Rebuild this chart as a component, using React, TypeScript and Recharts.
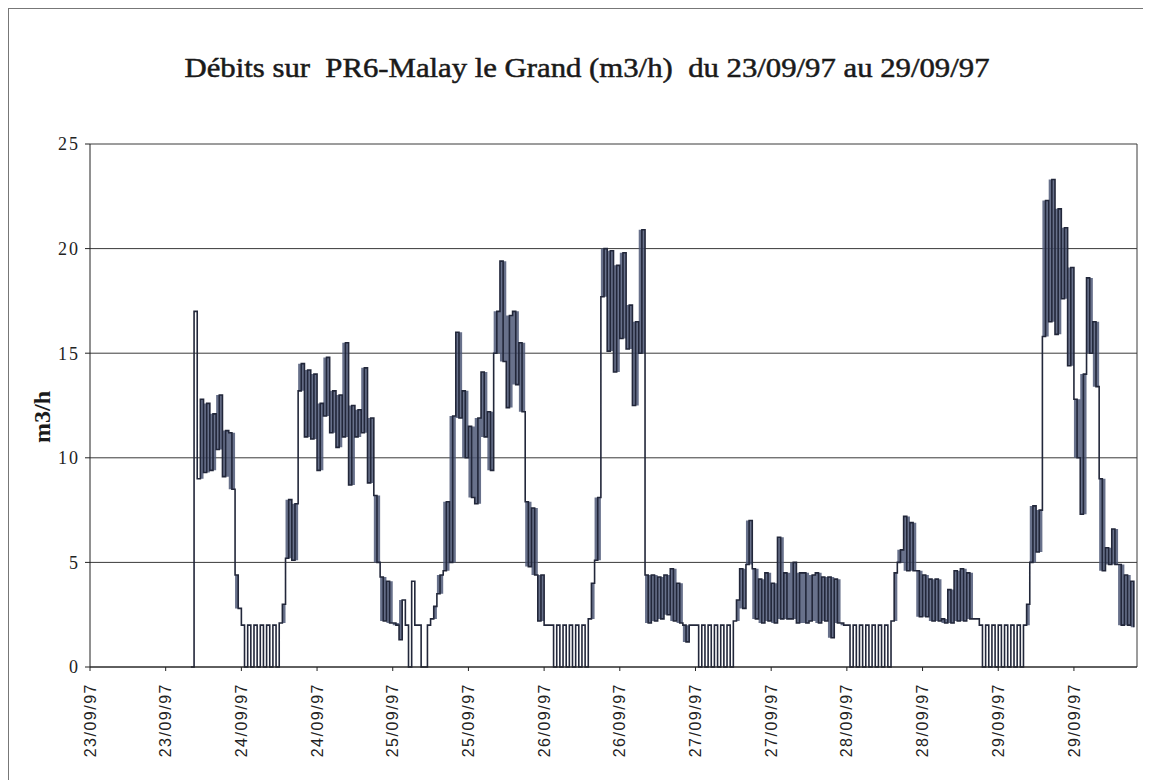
import React from 'react';
import { Area, CartesianGrid, ComposedChart, Line, ReferenceLine, XAxis, YAxis } from 'recharts';

// hourly readings starting at 23/09/97 16:00 (hour index 16)
const firstHour = 16;
const onTheHour = [
  0, 9.0, 9.3, 9.4, 10.4, 9.1, 11.2, 4.4, 2, 2, 2, 2, 2, 2, 2.1, 5.2, 5.1, 13.2, 11.0, 10.9,
  9.4, 12.0, 11.2, 10.5, 11.0, 8.7, 11.0, 11.2, 8.8, 8.2, 4.3, 4.1, 2.1, 1.3, 2.0, 4.1, 2.0, 0, 2.3, 3.5,
  4.6, 5.0, 16.0, 13.2, 11.5, 7.8, 14.1, 12.2, 15.0, 19.4, 12.4, 17.0, 15.5, 7.9, 7.6, 2.2, 2.0, 2, 2, 2,
  2, 2, 2, 2.3, 5.1, 17.7, 15.1, 14.1, 15.7, 15.2, 12.5, 15.0, 4.4, 4.4, 4.3, 4.4, 4.7, 4.0, 2.0, 2.0,
  2, 2, 2, 2, 2, 2, 2.2, 4.7, 4.9, 4.7, 4.2, 4.5, 4.0, 6.2, 4.5, 2.3, 2.1, 4.5, 2.2, 4.5,
  4.3, 4.3, 4.2, 2.1, 2, 2, 2, 2, 2, 2, 2, 2.2, 5.0, 7.2, 6.9, 4.6, 4.4, 4.2, 4.2, 2.3,
  3.7, 4.6, 4.7, 4.5, 2.3, 2, 2, 2, 2, 2, 2, 2, 2.0, 5.0, 5.5, 15.8, 16.5, 15.9, 17.6, 14.4,
  12.8, 7.3, 18.6, 16.5, 9.0, 5.7, 6.6, 4.9, 4.4, 4.1,
];
const halfPast = [
  17, 12.8, 12.6, 12.1, 13.0, 11.3, 8.5, 2.8, 0, 0, 0, 0, 0, 0, 3.0, 8.0, 7.8, 14.5, 14.2, 14.0,
  12.6, 14.8, 13.2, 13.0, 15.5, 12.5, 12.3, 14.3, 11.9, 5.0, 2.2, 2.1, 2.0, 3.2, 0, 2.0, 0, 2.0, 2.9, 4.4,
  7.9, 12.0, 11.9, 10.0, 8.1, 11.9, 11.0, 9.4, 17.0, 14.6, 16.8, 13.5, 12.2, 4.8, 4.4, 4.4, 2.0, 0, 0, 0,
  0, 0, 0, 4.0, 8.1, 20.0, 19.9, 19.2, 19.8, 17.3, 16.5, 20.9, 2.1, 2.2, 2.3, 2.5, 2.2, 2.1, 1.2, 2.0,
  0, 0, 0, 0, 0, 0, 3.2, 2.8, 7.0, 2.3, 2.1, 2.2, 2.1, 2.3, 2.3, 5.0, 4.5, 2.1, 4.4, 2.1,
  2.2, 1.4, 2.1, 2.0, 0, 0, 0, 0, 0, 0, 0, 4.5, 5.6, 4.6, 4.6, 2.4, 2.4, 2.2, 2.2, 2.1,
  2.1, 2.2, 2.2, 2.3, 2.3, 0, 0, 0, 0, 0, 0, 0, 3.0, 7.7, 7.5, 22.3, 23.3, 21.9, 21.0, 19.1,
  10.0, 14.0, 15.0, 13.4, 4.6, 4.9, 4.9, 2.0, 2.0, 1.9,
];

const tickHours = [0, 12, 24, 36, 48, 60, 72, 84, 96, 108, 120, 132, 144, 156];
const tickLabels = [
  '23/09/97', '23/09/97', '24/09/97', '24/09/97', '25/09/97', '25/09/97', '26/09/97',
  '26/09/97', '27/09/97', '27/09/97', '28/09/97', '28/09/97', '29/09/97', '29/09/97',
];
const flowTicks = [0, 5, 10, 15, 20, 25];

const points = onTheHour.flatMap((q, i) => [
  { t: firstHour + i, q },
  { t: firstHour + i + 0.5, q: halfPast[i] },
]);

// the noisy band between the two readings of each hour (not where the pump stops)
const band = onTheHour.slice(1).map((q, k) => {
  const i = k + 1;
  const lo = Math.min(q, halfPast[i]);
  const hi = Math.max(q, halfPast[i]);
  return { t: firstHour + i + 0.5, range: lo > 0.5 ? [lo, hi] : null };
});

const DateTick = (props: any) => {
  const { x, y, payload } = props;
  const label = tickLabels[tickHours.indexOf(payload.value)];
  return (
    <text
      x={x}
      y={y}
      dy="0.35em"
      transform={`rotate(-90, ${x}, ${y})`}
      textAnchor="end"
      fontFamily="'Liberation Sans', Arial, sans-serif"
      fontSize={16}
      fill="#222"
      style={{ letterSpacing: 1.5 }}
    >
      {label}
    </text>
  );
};

const FlowTick = (props: any) => {
  const { x, y, payload } = props;
  return (
    <text
      x={x}
      y={y}
      dy="0.35em"
      textAnchor="end"
      fontFamily="'Liberation Serif', 'Times New Roman', serif"
      fontSize={18}
      fill="#222"
      style={{ letterSpacing: 2 }}
    >
      {payload.value}
    </text>
  );
};

const App = () => {
  return (
    <div
      style={{
        position: 'relative',
        width: 1143,
        height: 772,
        borderLeft: '1px solid #777',
        borderTop: '1px solid #777',
        background: '#fff',
      }}
    >
      <ComposedChart width={1143} height={772} margin={{ top: 135, right: 15, left: 0, bottom: 14 }}>
        <CartesianGrid vertical={false} stroke="#3a3a3a" strokeWidth={1} />
        <XAxis
          dataKey="t"
          type="number"
          domain={[0, 166]}
          ticks={tickHours}
          interval={0}
          height={100}
          tickSize={4}
          tickMargin={12}
          tick={<DateTick />}
          stroke="#222"
          allowDuplicatedCategory={false}
        />
        <YAxis
          type="number"
          domain={[0, 25]}
          ticks={flowTicks}
          width={81}
          tickSize={5}
          tickMargin={5}
          tick={<FlowTick />}
          stroke="#222"
        />
        <ReferenceLine x={166} stroke="#3a3a3a" />
        <Area
          data={band}
          type="step"
          dataKey="range"
          stroke="none"
          fill="#4d5877"
          fillOpacity={0.85}
          connectNulls={false}
          isAnimationActive={false}
        />
        <Line
          data={points}
          type="stepAfter"
          dataKey="q"
          stroke="#22273a"
          strokeWidth={1.6}
          dot={false}
          isAnimationActive={false}
        />
      </ComposedChart>
      <svg
        width={1143}
        height={772}
        style={{ position: 'absolute', left: 0, top: 0, pointerEvents: 'none' }}
      >
        <text
          x={578}
          y={68}
          textAnchor="middle"
          fontFamily="'Liberation Serif', 'Times New Roman', serif"
          fontSize={27}
          fill="#1a1a1a"
          stroke="#1a1a1a"
          strokeWidth={0.5}
          textLength={805}
          lengthAdjust="spacingAndGlyphs"
          style={{ whiteSpace: 'pre' }}
        >
          {'Débits sur  PR6-Malay le Grand (m3/h)  du 23/09/97 au 29/09/97'}
        </text>
        <text
          x={33}
          y={408}
          dy="0.35em"
          textAnchor="middle"
          transform="rotate(-90, 33, 408)"
          fontFamily="'Liberation Serif', 'Times New Roman', serif"
          fontSize={24}
          fontWeight="bold"
          fill="#1a1a1a"
        >
          m3/h
        </text>
      </svg>
    </div>
  );
};

export default App;
